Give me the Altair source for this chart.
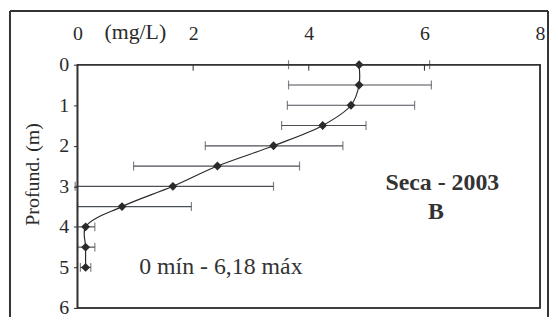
import altair as alt
import pandas as pd

depth = [0, 0.5, 1, 1.5, 2, 2.5, 3, 3.5, 4, 4.5, 5]
conc = [4.87, 4.87, 4.73, 4.24, 3.39, 2.42, 1.65, 0.77, 0.14, 0.14, 0.14]
lower = [3.65, 3.65, 3.63, 3.53, 2.21, 0.97, -0.04, 0.0, 0.0, 0.0, 0.05]
upper = [6.09, 6.12, 5.83, 4.99, 4.59, 3.84, 3.39, 1.97, 0.30, 0.30, 0.23]

x_ticks = [0, 2, 4, 6, 8]
inner_ticks = [2, 4, 6]
y_ticks = [0, 1, 2, 3, 4, 5, 6]

labels_txt = ["Seca - 2003", "B"]
labels_x = [6.31, 6.2]
labels_y = [2.92, 3.63]

range_txt = ["0 mín - 6,18 máx"]
range_x = [2.48]
range_y = [5.0]

unit_txt = ["(mg/L)"]
unit_x = [1.0]

# outer figure border and plot-area border (pixel offsets from the plot area's corner)
border_xa = [-68, 474, -68, -68, 0, 466, 0, 0]
border_xb = [-68, 474, 474, 474, 0, 466, 466, 466]
border_ya = [-54, -54, -54, 280, 0, 0, 0, 245]
border_yb = [280, 280, -54, 280, 245, 245, 0, 245]
border_w = [2, 2, 2, 2, 1.6, 1.6, 1.6, 1.6]

FONT = "Liberation Serif"
INK = "#2a2a2a"
BAR = "#4a4f55"

df = pd.DataFrame({"depth": depth, "conc": conc, "lo": lower, "hi": upper,
                   "order": list(range(len(depth)))})

xs = alt.Scale(domain=[0, 8], nice=False, zero=False)
ys = alt.Scale(domain=[0, 6], reverse=True, nice=False, zero=False)

xaxis = alt.Axis(orient="top", values=x_ticks, ticks=False, domain=False, grid=False,
                 format="d", labelPadding=21, title=None, labelFlush=False)
yaxis = alt.Axis(values=y_ticks, tickSize=4, tickColor=INK, domain=False, grid=False,
                 format="d", labelPadding=5, title="Profund. (m)", titlePadding=16,
                 titleY=110)


def X(f):
    return alt.X(f, scale=xs, axis=xaxis)


def Y(f):
    return alt.Y(f, scale=ys, axis=yaxis)


base = alt.Chart(df)

border = alt.Chart(pd.DataFrame({"ba": border_xa, "bb": border_xb,
                                 "ca": border_ya, "cb": border_yb, "w": border_w})).mark_rule(
    color="#333333").encode(
    x=alt.X("ba:Q", scale=None), x2="bb:Q", y=alt.Y("ca:Q", scale=None), y2="cb:Q",
    strokeWidth=alt.StrokeWidth("w:Q", scale=None))

bars = base.mark_rule(color=BAR, strokeWidth=1.2).encode(x=X("lo:Q"), x2="hi:Q", y=Y("depth:Q"))
cap_lo = base.mark_tick(orient="vertical", color=BAR, size=9, thickness=1.2).encode(
    x=X("lo:Q"), y=Y("depth:Q"))
cap_hi = base.mark_tick(orient="vertical", color=BAR, size=9, thickness=1.2).encode(
    x=X("hi:Q"), y=Y("depth:Q"))

line = base.mark_line(color=INK, strokeWidth=1.2, interpolate="catmull-rom").encode(
    x=X("conc:Q"), y=Y("depth:Q"), order="order:Q")
pts = base.mark_point(shape="diamond", filled=True, color=INK, size=80, opacity=1).encode(
    x=X("conc:Q"), y=Y("depth:Q"))

ticks_top = alt.Chart(pd.DataFrame({"v": inner_ticks})).mark_rule(color=INK, strokeWidth=1).encode(
    x=X("v:Q"), y=alt.value(0), y2=alt.value(6))

seca = alt.Chart(pd.DataFrame({"t": labels_txt, "x": labels_x, "y": labels_y})).mark_text(
    font=FONT, fontSize=24, fontWeight="bold", color="#333333", align="center", baseline="middle"
).encode(x=X("x:Q"), y=Y("y:Q"), text="t:N")

rng = alt.Chart(pd.DataFrame({"t": range_txt, "x": range_x, "y": range_y})).mark_text(
    font=FONT, fontSize=24, color="#333333", align="center", baseline="middle"
).encode(x=X("x:Q"), y=Y("y:Q"), text="t:N")

unit = alt.Chart(pd.DataFrame({"t": unit_txt, "x": unit_x})).mark_text(
    font=FONT, fontSize=22, color=INK, align="center", baseline="middle"
).encode(x=X("x:Q"), y=alt.value(-33), text="t:N")

chart = alt.layer(bars, cap_lo, cap_hi, line, pts, ticks_top, seca, rng, unit, border).properties(
    width=466, height=245,
    background="white",
    autosize=alt.AutoSizeParams(type="none"),
    padding={"left": 70, "top": 56, "right": 10, "bottom": 8},
).configure_view(
    stroke=INK, strokeWidth=1.6
).configure_axis(
    labelFont=FONT, labelFontSize=20, labelColor=INK,
    titleFont=FONT, titleFontSize=20, titleFontWeight="normal", titleColor=INK,
)

chart.save("out.html", embed_options={"renderer": "svg", "actions": False})
